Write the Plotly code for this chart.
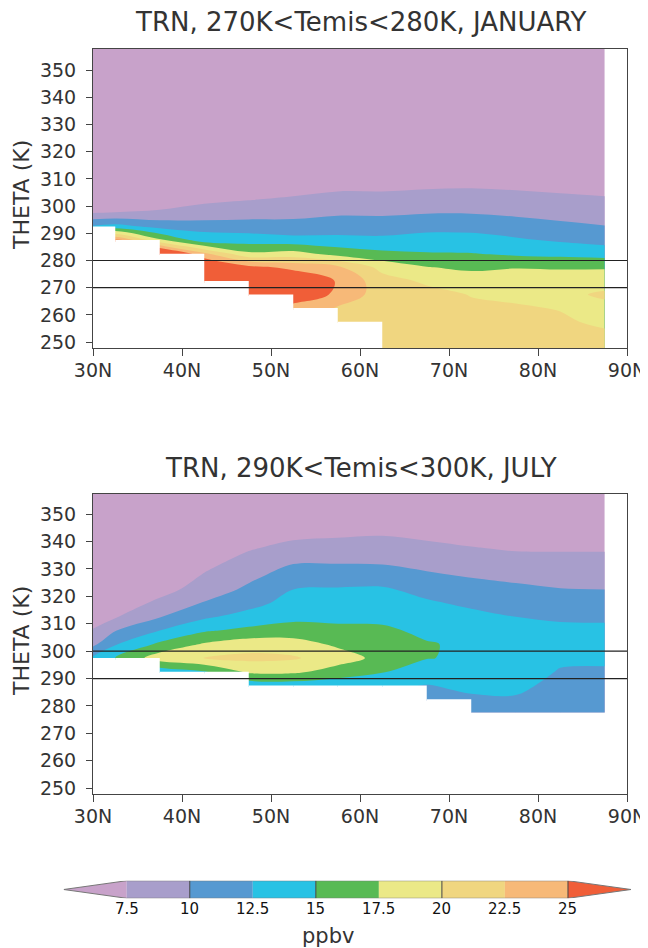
import numpy as np
import plotly.graph_objects as go

# grid latitudes (deg N) of the model columns
lat = [27.5, 32.5, 37.5, 42.5, 47.5, 52.5, 57.5, 62.5, 67.5, 72.5, 77.5, 82.5, 87.5]
lat_ticks = [30, 40, 50, 60, 70, 80, 90]
theta_ticks = [250, 260, 270, 280, 290, 300, 310, 320, 330, 340, 350]

# contour levels (ppbv) and the fill colours of the 9 bands
levels = [7.5, 10, 12.5, 15, 17.5, 20, 22.5, 25]
level_labels = ['7.5', '10', '12.5', '15', '17.5', '20', '22.5', '25']
band_colors = ['#c8a2ca', '#a89ecb', '#5699d1', '#28c2e4', '#58ba54',
               '#ebe987', '#f0d680', '#f7b978', '#f05e38']

N = None  # missing (below the surface)

# January, 270K<Temis<280K : one list per latitude, values at jan_theta
jan_band = [270, 280]
jan_theta = [247.5, 252.5, 257.5, 262.5, 267.5, 272.5, 277.5, 282.5,
             287.5, 292.5, 297.5, 302.5, 307.5, 312.5, 330, 360]
jan_ppbv = [
    [N, N, N, N, N, N, N, N, N, 12.0, 7.4, 5.6, 5.0, 4.7, 4.2, 3.8],
    [N, N, N, N, N, N, N, N, 25.5, 13.5, 7.6, 5.6, 5.0, 4.7, 4.2, 3.8],
    [N, N, N, N, N, N, N, 30.0, 18.0, 11.7, 8.0, 5.8, 5.1, 4.8, 4.3, 3.8],
    [N, N, N, N, N, 30.0, 29.0, 23.0, 13.5, 11.8, 7.9, 7.3, 6.0, 5.2, 4.4, 3.9],
    [N, N, N, N, 30.0, 30.0, 25.8, 18.0, 13.8, 11.2, 8.9, 7.4, 6.2, 5.5, 4.6, 4.0],
    [N, N, N, 24.0, 27.0, 27.5, 24.3, 18.5, 13.5, 10.6, 9.5, 7.8, 6.5, 5.8, 4.8, 4.1],
    [N, N, 21.0, 22.3, 24.5, 24.8, 23.0, 16.5, 13.3, 11.2, 9.7, 8.2, 7.0, 6.0, 5.0, 4.2],
    [21.5, 21.5, 21.3, 21.0, 21.2, 21.0, 19.2, 15.6, 13.0, 11.4, 9.6, 8.2, 7.0, 6.0, 5.0, 4.2],
    [21.3, 21.3, 21.3, 21.2, 20.8, 19.6, 17.6, 15.2, 13.4, 11.8, 9.9, 8.4, 7.2, 6.2, 5.1, 4.3],
    [21.0, 21.0, 20.8, 20.4, 19.9, 18.8, 17.0, 15.1, 13.3, 11.8, 9.9, 8.4, 7.3, 6.3, 5.1, 4.3],
    [20.8, 20.6, 20.4, 20.2, 19.6, 18.6, 17.4, 14.6, 12.8, 11.3, 9.5, 8.3, 7.1, 6.2, 5.0, 4.3],
    [21.0, 20.7, 20.3, 19.9, 19.5, 18.5, 17.3, 14.3, 12.2, 10.6, 9.1, 7.9, 7.0, 6.2, 5.0, 4.2],
    [20.8, 20.4, 19.6, 19.5, 20.3, 19.2, 17.2, 14.0, 11.6, 10.1, 8.8, 7.7, 6.8, 6.0, 4.9, 4.2],
]

# July, 290K<Temis<300K
jul_band = [290, 300]
jul_theta = [277.5, 282.5, 287.5, 292.5, 297.5, 302.5, 307.5, 312.5,
             317.5, 322.5, 327.5, 332.5, 337.5, 342.5, 347.5, 360]
jul_ppbv = [
    [N, N, N, N, 10.5, 6.6, 5.6, 5.2, 4.9, 4.7, 4.6, 4.5, 4.4, 4.3, 4.2, 4.0],
    [N, N, N, N, 15.0, 12.3, 9.9, 7.3, 6.0, 5.3, 5.0, 4.8, 4.6, 4.5, 4.4, 4.1],
    [N, N, N, 13.5, 18.8, 15.5, 12.5, 9.9, 8.1, 6.6, 5.7, 5.2, 4.9, 4.7, 4.5, 4.2],
    [N, N, N, 14.8, 20.1, 17.8, 14.7, 12.1, 10.2, 8.6, 7.7, 6.8, 6.0, 5.4, 5.0, 4.3],
    [N, N, 13.5, 18.0, 20.6, 18.9, 15.6, 13.4, 11.7, 10.5, 9.4, 8.3, 7.3, 6.4, 5.8, 4.7],
    [N, N, 13.7, 18.0, 20.3, 18.5, 16.2, 14.3, 13.4, 12.5, 11.1, 9.8, 8.2, 7.0, 6.2, 4.9],
    [N, N, 13.3, 16.5, 18.6, 17.1, 15.6, 14.4, 13.6, 12.7, 11.3, 9.8, 8.5, 7.2, 6.4, 5.0],
    [N, N, 13.0, 15.2, 16.8, 16.5, 15.5, 14.3, 13.6, 12.8, 11.3, 9.7, 8.5, 7.4, 6.6, 5.1],
    [N, 11.5, 12.4, 13.6, 15.1, 15.2, 14.4, 13.6, 12.8, 11.8, 10.4, 9.2, 8.0, 7.1, 6.4, 5.0],
    [11.0, 12.0, 13.3, 14.1, 14.6, 14.5, 13.9, 13.1, 12.1, 11.1, 9.8, 8.6, 7.6, 6.8, 6.2, 4.9],
    [11.2, 12.2, 13.2, 13.9, 14.2, 14.0, 13.4, 12.5, 11.6, 10.6, 9.3, 8.2, 7.3, 6.6, 6.1, 4.9],
    [10.5, 11.0, 11.6, 12.3, 13.0, 13.3, 13.0, 12.2, 11.3, 10.1, 9.0, 8.1, 7.3, 6.6, 6.1, 4.9],
    [10.5, 11.0, 11.5, 12.3, 12.8, 13.2, 12.9, 12.2, 11.2, 10.0, 9.0, 8.1, 7.3, 6.6, 6.1, 4.9],
]

FONT = "DejaVu Sans, sans-serif"
INK = '#333333'

# the page body adds an 8 px margin, so the figure is 8 px smaller each way
OFF = 8
W, H = 648 - OFF, 948 - OFF


def px(x):   # window pixel -> paper x
    return (x - OFF) / W


def py(y):   # window pixel -> paper y
    return 1 - (y - OFF) / H


# panel boxes in window pixels: (left, right, top, bottom) and theta range
panels = [
    dict(xa='x', ya='y', theta=jan_theta, ppbv=jan_ppbv, band=jan_band, month='JANUARY',
         box=(93, 627, 49, 348.3), yrange=[247.7, 357.8], title_y=22, label_y=195),
    dict(xa='x2', ya='y2', theta=jul_theta, ppbv=jul_ppbv, band=jul_band, month='JULY',
         box=(93, 627, 494, 794.3), yrange=[247.8, 357.3], title_y=468, label_y=641),
]

colorscale = [[k / (len(band_colors) - 1), c] for k, c in enumerate(band_colors)]
cell_mid = [(a + b) / 2 for a, b in zip(lat[:-1], lat[1:])]

fig = go.Figure()
annotations = []
layout_axes = {}

for i, p in enumerate(panels):
    z = np.array(p['ppbv'], dtype=float).T  # rows = theta, cols = lat
    fig.add_trace(go.Contour(
        x=lat, y=p['theta'], z=z, xaxis=p['xa'], yaxis=p['ya'],
        colorscale=colorscale, showscale=False, autocontour=False,
        contours=dict(start=levels[0], end=levels[-1], size=levels[1] - levels[0],
                      coloring='fill', showlines=False),
        line=dict(width=0), hoverinfo='skip'))

    # blank the cells that touch a missing value (below the ground)
    lowest = [p['theta'][next(k for k, v in enumerate(col) if v is not None)] for col in p['ppbv']]
    floor = [max(a, b) for a, b in zip(lowest[:-1], lowest[1:])]
    base = p['yrange'][0] - 5
    fig.add_trace(go.Bar(
        x=cell_mid, y=[f - base for f in floor], base=base, width=lat[1] - lat[0],
        marker=dict(color='white', line=dict(width=0)), xaxis=p['xa'], yaxis=p['ya'],
        hoverinfo='skip', showlegend=False))

    l, r, t, b = p['box']
    sfx = '' if i == 0 else str(i + 1)
    layout_axes['xaxis' + sfx] = dict(
        domain=[px(l), px(r)], range=[30, 90], anchor=p['ya'],
        tickvals=lat_ticks, ticktext=[f'{v}N' for v in lat_ticks], ticklen=7,
        ticklabelstandoff=-2, ticklabeloverflow='allow',
        tickfont=dict(family=FONT, size=19, color=INK))
    layout_axes['yaxis' + sfx] = dict(
        domain=[py(b), py(t)], range=p['yrange'], anchor=p['xa'],
        tickvals=theta_ticks, ticklen=6, ticklabelstandoff=6,
        tickfont=dict(family=FONT, size=19, color=INK))
    for key in ('xaxis' + sfx, 'yaxis' + sfx):
        layout_axes[key].update(
            showline=True, linecolor='#444444', linewidth=1, mirror=True,
            ticks='outside', tickcolor='#444444', showgrid=False,
            zeroline=False, automargin=False)

    for y0 in p['band']:
        fig.add_shape(type='line', xref=p['xa'] + ' domain', yref=p['ya'],
                      x0=0, x1=1, y0=y0, y1=y0, layer='above',
                      line=dict(color='#222222', width=1.2))

    annotations.append(dict(
        text=f"TRN, {p['band'][0]}K&lt;Temis&lt;{p['band'][1]}K, {p['month']}",
        x=px(361), y=py(p['title_y']), xref='paper', yref='paper',
        xanchor='center', yanchor='middle', showarrow=False,
        font=dict(family=FONT, size=26, color=INK)))
    annotations.append(dict(
        text='THETA (K)', x=px(21), y=py(p['label_y']), xref='paper', yref='paper',
        xanchor='center', yanchor='middle', textangle=-90, showarrow=False,
        font=dict(family=FONT, size=22, color=INK)))

# colour bar with triangular ends, drawn on its own axes
step = levels[1] - levels[0]
lo, hi = levels[0] - step, levels[-1] + step
for k, c in enumerate(band_colors):
    if k == 0:
        xs, ys = [lo, levels[0], levels[0], lo], [0.5, 1, 0, 0.5]
    elif k == len(band_colors) - 1:
        xs, ys = [levels[-1], hi, levels[-1], levels[-1]], [0, 0.5, 1, 0]
    else:
        a, b2 = levels[k - 1], levels[k]
        xs, ys = [a, b2, b2, a, a], [0, 0, 1, 1, 0]
    fig.add_trace(go.Scatter(x=xs, y=ys, xaxis='x3', yaxis='y3', mode='lines',
                             fill='toself', fillcolor=c, line=dict(width=0),
                             hoverinfo='skip', showlegend=False))
fig.add_trace(go.Scatter(
    x=[lo, levels[0], levels[-1], hi, levels[-1], levels[0], lo],
    y=[0.5, 1, 1, 0.5, 0, 0, 0.5], xaxis='x3', yaxis='y3', mode='lines',
    line=dict(color='#777777', width=1), hoverinfo='skip', showlegend=False))
sep_x, sep_y = [], []
for v in levels[1::2]:
    sep_x += [v, v, None]
    sep_y += [0, 1, None]
fig.add_trace(go.Scatter(x=sep_x, y=sep_y, xaxis='x3', yaxis='y3', mode='lines',
                         line=dict(color='#444444', width=1), hoverinfo='skip',
                         showlegend=False))

layout_axes['xaxis3'] = dict(
    domain=[px(63.7), px(631)], range=[lo, hi], anchor='y3', visible=False)
layout_axes['yaxis3'] = dict(
    domain=[py(898.3), py(880.7)], range=[0, 1], anchor='x3', visible=False)

for v, txt in zip(levels, level_labels):
    annotations.append(dict(
        text=txt, x=v, y=py(909), xref='x3', yref='paper',
        xanchor='center', yanchor='middle', showarrow=False,
        font=dict(family=FONT, size=15, color='#111111')))

annotations.append(dict(
    text='ppbv', x=px(328), y=py(936), xref='paper', yref='paper',
    xanchor='center', yanchor='middle', showarrow=False,
    font=dict(family=FONT, size=21, color=INK)))

fig.update_layout(
    template='none', width=W, height=H, margin=dict(l=0, r=0, t=0, b=0),
    paper_bgcolor='white', plot_bgcolor='white', showlegend=False,
    annotations=annotations, **layout_axes)

fig.write_html("out.html")
